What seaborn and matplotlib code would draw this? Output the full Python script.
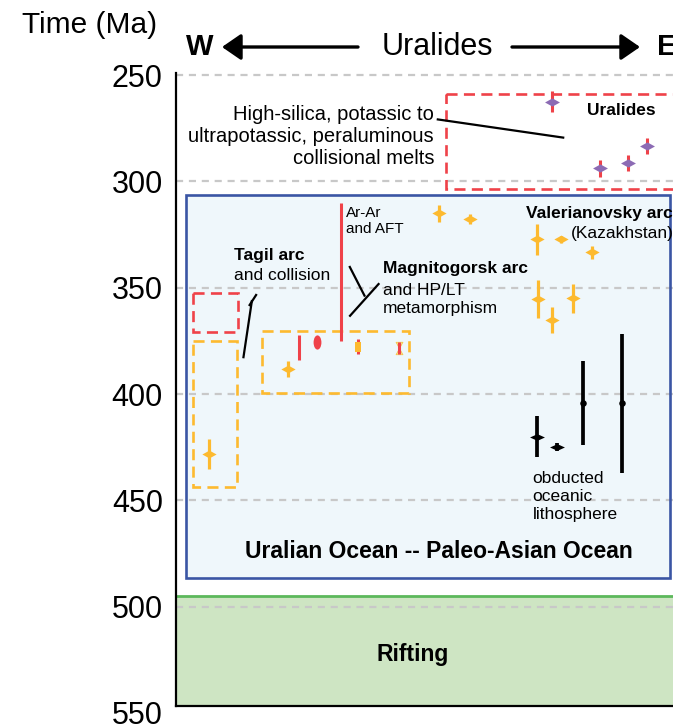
import numpy as np
import pandas as pd
import seaborn as sns
import matplotlib
matplotlib.use("Agg")
import matplotlib.pyplot as plt
from matplotlib.path import Path
from matplotlib.patches import Rectangle

# ---------------- data ----------------
age_ticks = [250, 300, 350, 400, 450, 500, 550]
grid_ages = [250, 300, 350, 400, 450, 500]

# position along the W-E transect (arbitrary units), age (Ma), 2-sigma
ural_x = [375.7, 424.0, 452.3, 471.3]
ural_age = [262.6, 293.9, 291.2, 283.4]
ural_err = [4.9, 3.9, 3.7, 3.8]

arc_x = [263.3, 294.0, 360.7, 384.7, 415.7, 362.3, 376.3, 397.3, 33.3, 111.7]
arc_age = [315.0, 317.8, 327.3, 327.3, 333.4, 355.3, 365.2, 355.0, 428.2, 388.2]
arc_err = [3.9, 2.4, 7.3, 1.5, 2.9, 8.9, 6.0, 6.9, 7.1, 3.8]

oph_x = [360.7, 381.3, 407.3, 445.7]
oph_age = [420.1, 425.0, 404.1, 404.4]
oph_err = [9.7, 2.0, 19.8, 32.7]
oph_kind = ["diamond", "diamond", "dot", "dot"]

meta_x = [123.3, 140.7, 164.7, 182.3, 223.3]
meta_age = [378.2, 375.4, 342.6, 377.7, 378.3]
meta_err = [5.9, 2.8, 32.3, 3.5, 2.9]
meta_kind = ["bar", "ellipse", "bar", "square", "hourglass"]

box_names = ["ocean", "rift", "uralides", "tagil_red", "tagil_yel", "magn_yel"]
box_x0 = [10, 0, 270, 16.7, 16.7, 85.7]
box_x1 = [494, 560, 560, 61.7, 61.3, 233.3]
box_top = [306.4, 495.0, 258.9, 352.6, 375.1, 370.2]
box_bot = [486.6, 546.6, 303.5, 371.0, 443.6, 399.4]

# ---------------- style ----------------
sns.set_theme(style="white")
plt.rcParams["font.family"] = ["Liberation Sans", "DejaVu Sans"]
plt.rcParams["text.color"] = "black"
plt.rcParams["axes.labelcolor"] = "black"
plt.rcParams["ytick.color"] = "black"
plt.rcParams["xtick.color"] = "black"

RED = "#ef4249"
ORANGE = "#fdba2f"
PURPLE = "#8c6bb4"
BLUE = "#3a55a4"
BLUEFILL = "#eff7fb"
GREENFILL = "#cee5c3"
GREEN = "#5cb85b"
GRID = "#c8c8c8"

W, H = 673, 726
fig = plt.figure(figsize=(W / 100, H / 100), dpi=100)
ax_bottom_px = 713.0
ax_top_px = 72.9
ax = fig.add_axes([176 / W, (H - ax_bottom_px) / H, 520 / W, (ax_bottom_px - ax_top_px) / H])
ax.set_xlim(0, 520)
ax.set_ylim(550, 249)
ax.set_facecolor("none")

df_box = pd.DataFrame({"name": box_names, "x0": box_x0, "x1": box_x1,
                       "top": box_top, "bot": box_bot}).set_index("name")

def rect(name, **kw):
    r = df_box.loc[name]
    ax.add_patch(Rectangle((r.x0, r.top), r.x1 - r.x0, r.bot - r.top, **kw))

# fills
rect("ocean", facecolor=BLUEFILL, edgecolor="none", zorder=0.5)
rect("rift", facecolor=GREENFILL, edgecolor="none", zorder=0.5)

# grid lines
for g in grid_ages:
    ax.axhline(g, color=GRID, lw=1.6, ls=(0, (3.2, 2.6)), zorder=1)

# box edges
rect("ocean", facecolor="none", edgecolor=BLUE, lw=1.9, zorder=1.6)
ax.hlines(df_box.loc["rift", "top"], 0, 560, color=GREEN, lw=2.0, zorder=1.6)
dash = (0, (4.2, 2.4))
rect("uralides", facecolor="none", edgecolor=RED, lw=1.9, ls=dash, zorder=2)
rect("tagil_red", facecolor="none", edgecolor=RED, lw=1.9, ls=dash, zorder=2)
rect("tagil_yel", facecolor="none", edgecolor=ORANGE, lw=1.9, ls=dash, zorder=2)
rect("magn_yel", facecolor="none", edgecolor=ORANGE, lw=1.9, ls=dash, zorder=2)

# marker shapes
hdiamond = Path([(-1, 0), (0, 0.55), (1, 0), (0, -0.55), (-1, 0)],
                [Path.MOVETO, Path.LINETO, Path.LINETO, Path.LINETO, Path.CLOSEPOLY])
bdiamond = Path([(-1, 0), (0, 0.45), (1, 0), (0, -0.45), (-1, 0)],
                [Path.MOVETO, Path.LINETO, Path.LINETO, Path.LINETO, Path.CLOSEPOLY])
circ = Path.unit_circle()
vellipse = Path(circ.vertices * np.array([0.55, 1.0]), circ.codes)
vrect = Path([(-0.75, -1), (0.75, -1), (0.75, 1), (-0.75, 1), (-0.75, -1)],
             [Path.MOVETO, Path.LINETO, Path.LINETO, Path.LINETO, Path.CLOSEPOLY])
hourglass = Path([(-0.55, 1), (0.55, 1), (0, 0), (-0.55, 1), (-0.55, -1), (0.55, -1), (0, 0), (-0.55, -1)],
                 [Path.MOVETO, Path.LINETO, Path.LINETO, Path.CLOSEPOLY,
                  Path.MOVETO, Path.LINETO, Path.LINETO, Path.CLOSEPOLY])

# Uralides melts
ax.errorbar(ural_x, ural_age, yerr=ural_err, fmt="none", ecolor=RED, elinewidth=2.2, capsize=0, zorder=3)
sns.scatterplot(x=ural_x, y=ural_age, marker=hdiamond, s=115, color=PURPLE, linewidth=0, ax=ax, zorder=4, legend=False)

# arcs
ax.errorbar(arc_x, arc_age, yerr=arc_err, fmt="none", ecolor=ORANGE, elinewidth=2.3, capsize=0, zorder=3)
sns.scatterplot(x=arc_x, y=arc_age, marker=hdiamond, s=105, color=ORANGE, linewidth=0, ax=ax, zorder=4, legend=False)

# ophiolites
ax.errorbar(oph_x, oph_age, yerr=oph_err, fmt="none", ecolor="black", elinewidth=2.7, capsize=0, zorder=3)
df_oph = pd.DataFrame({"x": oph_x, "age": oph_age, "kind": oph_kind})
d = df_oph[df_oph.kind == "diamond"]
sns.scatterplot(data=d, x="x", y="age", marker=bdiamond, s=115, color="black", linewidth=0, ax=ax, zorder=4, legend=False)
d = df_oph[df_oph.kind == "dot"]
sns.scatterplot(data=d, x="x", y="age", marker="o", s=22, color="black", linewidth=0, ax=ax, zorder=4, legend=False)

# metamorphism
df_meta = pd.DataFrame({"x": meta_x, "age": meta_age, "err": meta_err, "kind": meta_kind})
ax.errorbar(meta_x, meta_age, yerr=meta_err, fmt="none", ecolor=RED, elinewidth=2.2, capsize=0, zorder=3)
d = df_meta[df_meta.kind == "ellipse"]
sns.scatterplot(data=d, x="x", y="age", marker=vellipse, s=105, color=RED, linewidth=0, ax=ax, zorder=4, legend=False)
d = df_meta[df_meta.kind == "square"]
sns.scatterplot(data=d, x="x", y="age", marker=vrect, s=42, color=ORANGE, linewidth=0, ax=ax, zorder=4, legend=False)
d = df_meta[df_meta.kind == "hourglass"]
sns.scatterplot(data=d, x="x", y="age", marker=hourglass, s=80, color="#fbe39a", edgecolor="#f6c64c",
                linewidth=0.6, ax=ax, zorder=2.8, legend=False)

# ---------------- annotations ----------------
kw_line = dict(color="black", lw=1.6, zorder=5, solid_capstyle="butt")
ax.plot([260.7, 388.3], [270.8, 279.5], **kw_line)
ax.plot([67.3, 76.0], [383.2, 355.8], **kw_line)
ax.plot([73.0, 80.7], [358.6, 353.0], **kw_line)
ax.plot([173.3, 189.0], [339.8, 354.2], **kw_line)
ax.plot([173.3, 203.3], [363.6, 347.9], **kw_line)

ax.text(258, 278.7, "High-silica, potassic to\nultrapotassic, peraluminous\ncollisional melts",
        ha="right", va="center", multialignment="right", fontsize=14.5, linespacing=1.2, zorder=6)
ax.text(445.7, 266.5, "Uralides", ha="center", va="center", fontsize=12.5, fontweight="bold", zorder=6)
ax.text(169.7, 318.6, "Ar-Ar\nand AFT", ha="left", va="center", fontsize=11, linespacing=1.2, zorder=6)
ax.text(58.3, 335.0, "Tagil arc", ha="left", va="center", fontsize=12.5, fontweight="bold", zorder=6)
ax.text(58.3, 344.5, "and collision", ha="left", va="center", fontsize=12.5, zorder=6)
ax.text(206.7, 340.9, "Magnitogorsk arc", ha="left", va="center", fontsize=12.5, fontweight="bold", zorder=6)
ax.text(206.7, 355.6, "and HP/LT\nmetamorphism", ha="left", va="center", fontsize=12.5, linespacing=1.2, zorder=6)
ax.text(350.0, 315.0, "Valerianovsky arc", ha="left", va="center", fontsize=12.5, fontweight="bold", zorder=6)
ax.text(394.7, 324.4, "(Kazakhstan)", ha="left", va="center", fontsize=12.5, zorder=6)
ax.text(356.7, 448.3, "obducted\noceanic\nlithosphere", ha="left", va="center", fontsize=12.5,
        linespacing=1.25, zorder=6)
ax.text(263.3, 474.1, "Uralian Ocean -- Paleo-Asian Ocean", ha="center", va="center", fontsize=16.5,
        fontweight="bold", zorder=6)
ax.text(236.3, 522.7, "Rifting", ha="center", va="center", fontsize=16.5, fontweight="bold", zorder=6)

# ---------------- axes ----------------
ax.set_yticks(age_ticks)
ax.set_yticklabels([str(t) for t in age_ticks])
ax.set_xticks([])
ax.tick_params(axis="y", length=0, pad=9.5, labelsize=22, colors="black")
for s in ["top", "right"]:
    ax.spines[s].set_visible(False)
ax.spines["left"].set_color("black")
ax.spines["left"].set_linewidth(1.6)
ax.spines["left"].set_bounds(546.6, 249)
ax.spines["bottom"].set_color("black")
ax.spines["bottom"].set_linewidth(1.6)
ax.spines["bottom"].set_position(("data", 546.6))
ax.set_xlabel("")
ax.set_ylabel("")

# ---------------- header ----------------
def fx(px):
    return px / W

def fy(py):
    return 1 - py / H

fig.text(fx(22), fy(25), "Time (Ma)", ha="left", va="center", fontsize=21.5)
fig.text(fx(200), fy(47), "W", ha="center", va="center", fontsize=21, fontweight="bold")
fig.text(fx(437), fy(47), "Uralides", ha="center", va="center", fontsize=22)
fig.text(fx(657), fy(47), "E", ha="left", va="center", fontsize=21, fontweight="bold")
arrow_kw = dict(arrowstyle="-|>,head_length=0.58,head_width=0.4", mutation_scale=20, lw=2.4,
                color="black", shrinkA=0, shrinkB=0)
ax.annotate("", xy=(222, H - 47), xytext=(358, H - 47), xycoords="figure pixels",
            textcoords="figure pixels", arrowprops=arrow_kw, annotation_clip=False)
ax.annotate("", xy=(640, H - 47), xytext=(512, H - 47), xycoords="figure pixels",
            textcoords="figure pixels", arrowprops=arrow_kw, annotation_clip=False)

fig.savefig("out.png", dpi=100)
